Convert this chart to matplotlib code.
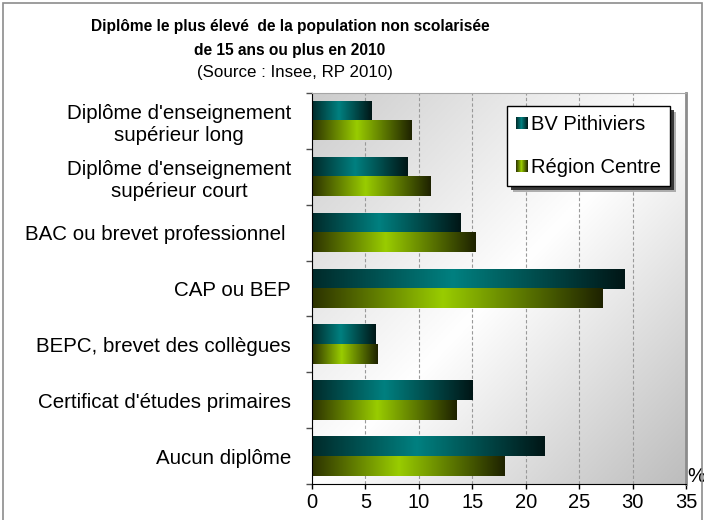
import numpy as np
import matplotlib
matplotlib.use('Agg')
import matplotlib.pyplot as plt
import matplotlib.patheffects as pe
from matplotlib.colors import LinearSegmentedColormap
from matplotlib.patches import Rectangle
from matplotlib.legend_handler import HandlerBase

plt.rcParams['font.family'] = ['Liberation Sans', 'DejaVu Sans']

# données (%)
categories = ["Diplôme d'enseignement\nsupérieur long",
              "Diplôme d'enseignement\nsupérieur court",
              "BAC ou brevet professionnel ",
              "CAP ou BEP",
              "BEPC, brevet des collègues",
              "Certificat d'études primaires",
              "Aucun diplôme"]
bv_pithiviers = [5.6, 8.9, 13.9, 29.2, 5.9, 15.0, 21.8]
region_centre = [9.3, 11.1, 15.3, 27.2, 6.1, 13.5, 18.0]
series_names = ['BV Pithiviers', 'Région Centre']
x_ticks = [0, 5, 10, 15, 20, 25, 30, 35]

title_l1 = "Diplôme le plus élevé  de la population non scolarisée"
title_l2 = "de 15 ans ou plus en 2010"
subtitle = "(Source : Insee, RP 2010)"

teal = LinearSegmentedColormap.from_list(
    'teal', [(0, '#002a2a'), (0.45, '#008080'), (1, '#001616')])
green = LinearSegmentedColormap.from_list(
    'green', [(0, '#2c3200'), (0.45, '#99cc00'), (1, '#1e2200')])


class GradientHandler(HandlerBase):
    def __init__(self, cmap):
        super().__init__()
        self.cmap = cmap

    def create_artists(self, legend, orig_handle, xdescent, ydescent,
                       width, height, fontsize, trans):
        n = 12
        arts = []
        for k in range(n):
            r = Rectangle((-xdescent + k * width / n, -ydescent), width / n, height,
                          facecolor=self.cmap((k + 0.5) / n), edgecolor='none',
                          transform=trans)
            arts.append(r)
        return arts


fig = plt.figure(figsize=(7.04, 5.2), dpi=100)
ax = fig.add_axes([312 / 704, 36 / 520, 374 / 704, 391 / 520])

n = len(categories)
y = np.arange(n)
h = 0.35

# fond dégradé
xx, yy = np.meshgrid(np.linspace(0, 1, 200), np.linspace(0, 1, 200))
u = (xx + yy) / 2
v = np.where(u < 0.5, 0.80 + (1 - 0.80) * (u / 0.5), 1 - (1 - 0.74) * ((u - 0.5) / 0.5))
bg = np.dstack([v, v, v])
ax.imshow(bg, extent=[0, 35, n - 0.5, -0.5], aspect='auto', zorder=0, origin='upper')

bars1 = ax.barh(y - h / 2, bv_pithiviers, height=h, color='none', zorder=2)
bars2 = ax.barh(y + h / 2, region_centre, height=h, color='none', zorder=2)

grad = np.linspace(0, 1, 256).reshape(1, -1)
for bars, cmap in [(bars1, teal), (bars2, green)]:
    for rect in bars:
        x0, y0 = rect.get_x(), rect.get_y()
        w, hh = rect.get_width(), rect.get_height()
        ax.imshow(grad, cmap=cmap, extent=[x0, x0 + w, y0 + hh, y0],
                  aspect='auto', zorder=2, interpolation='bilinear')

ax.set_xlim(0, 35)
ax.set_ylim(n - 0.5, -0.5)

ax.set_xticks(x_ticks)
ax.set_xticklabels([str(t) for t in x_ticks], fontsize=14.5)
ax.tick_params(axis='x', direction='out', length=3.5, width=1, pad=3)

ax.set_yticks(y)
ax.set_yticklabels(categories, fontsize=14.8)
for lab in ax.get_yticklabels():
    lab.set_multialignment('center')
ax.tick_params(axis='y', which='major', length=0, pad=15)
ax.set_yticks(np.arange(-0.5, n, 1), minor=True)
ax.tick_params(axis='y', which='minor', direction='out', length=4, width=1, color='0.3')

ax.xaxis.grid(True, linestyle=(0, (3, 2)), color='0.6', linewidth=0.8)
ax.set_axisbelow(True)
for g in ax.get_xgridlines():
    g.set_zorder(1)

ax.spines['left'].set_color('black')
ax.spines['bottom'].set_color('black')
ax.spines['right'].set_color('0.55')
ax.spines['right'].set_linewidth(2)
ax.spines['top'].set_color('0.65')

ax.text(1.003, -0.005, '%', transform=ax.transAxes, ha='left', va='bottom', fontsize=14.5)

p1 = Rectangle((0, 0), 1, 1)
p2 = Rectangle((0, 0), 1, 1)
leg = ax.legend([p1, p2], series_names, loc='upper left',
                bbox_to_anchor=(507 / 704, 1 - 106 / 520), bbox_transform=fig.transFigure,
                borderaxespad=0, fontsize=14.5, handlelength=0.6, handleheight=0.5,
                handletextpad=0.15, labelspacing=1.2, borderpad=0.45,
                fancybox=False, edgecolor='black', framealpha=1,
                handler_map={p1: GradientHandler(teal), p2: GradientHandler(green)})
leg.get_frame().set_linewidth(1)
leg.set_zorder(6)
# ombre de la légende
leg.get_frame().set_path_effects([
    pe.SimplePatchShadow(offset=(4.2, -4.2), shadow_rgbFace='0.5', alpha=0.6),
    pe.SimplePatchShadow(offset=(3, -3), shadow_rgbFace='0.2', alpha=0.95),
    pe.Normal()])

fig.text(290 / 704, 1 - 31 / 520, title_l1, ha='center', va='baseline', fontsize=11.2,
         fontweight='bold')
fig.text(290 / 704, 1 - 55 / 520, title_l2, ha='center', va='baseline', fontsize=11.2,
         fontweight='bold')
fig.text(295 / 704, 1 - 77 / 520, subtitle, ha='center', va='baseline', fontsize=12.2)

fig.patches.append(Rectangle((2.5 / 704, -0.02), 699 / 704, 1.02 - 2.5 / 520,
                             transform=fig.transFigure, fill=False,
                             edgecolor='0.55', linewidth=1.2))

fig.savefig('out.png', dpi=100)
